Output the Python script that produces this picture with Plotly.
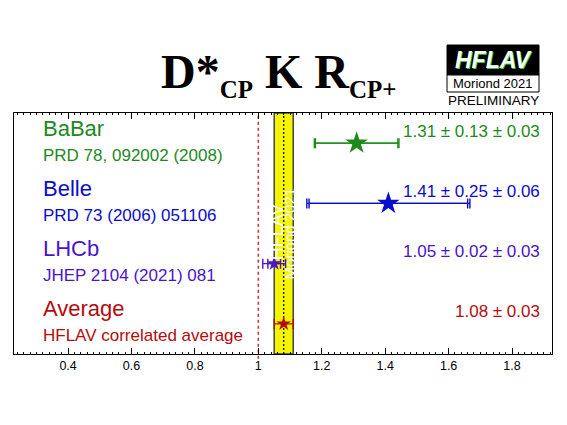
import math
import plotly.graph_objects as go

# ---------------- data ----------------
experiments = ["BaBar", "Belle", "LHCb"]
references = ["PRD 78, 092002 (2008)", "PRD 73 (2006) 051106", "JHEP 2104 (2021) 081"]
values = [1.31, 1.41, 1.05]
stat_err = [0.13, 0.25, 0.02]
syst_err = [0.03, 0.06, 0.03]
exp_colors = ["#1c8a1c", "#0b0bcc", "#4a14c8"]
row_pos = [4, 3, 2]

avg_label = "Average"
avg_ref = "HFLAV correlated average"
avg_value = 1.08
avg_err = 0.03
avg_color = "#b30c0c"
avg_row = 1

x_tick_vals = [0.4, 0.6, 0.8, 1.0, 1.2, 1.4, 1.6, 1.8]
x_tick_text = ["0.4", "0.6", "0.8", "1", "1.2", "1.4", "1.6", "1.8"]
x_range = [0.2295, 1.926]
y_range = [0.5, 4.5]
ref_line = 1.0

# page offset (body margin) compensation
OFF = 8
W, H = 567, 425
ML = 14 - OFF
MT = 113 - OFF
MR = W - (552 - OFF)
MB = H - (354 - OFF)
PW = W - ML - MR
PH = H - MT - MB


def px_x(px):
    return (px - OFF - ML) / PW


def px_y(py):
    return (H - MB - (py - OFF)) / PH


SANS = "Liberation Sans, Arial, sans-serif"
SERIF = "Liberation Serif, Times New Roman, serif"

fig = go.Figure()

# yellow average band + lines
fig.add_shape(type="rect", xref="x", yref="paper", x0=avg_value - avg_err, x1=avg_value + avg_err,
              y0=0, y1=1, fillcolor="#f5f500", line=dict(color="#444444", width=1.5), layer="below")
fig.add_shape(type="line", xref="x", yref="paper", x0=avg_value, x1=avg_value, y0=0, y1=1,
              line=dict(color="black", width=1.2, dash="2px,2px"), layer="below")
fig.add_shape(type="line", xref="x", yref="paper", x0=ref_line, x1=ref_line, y0=-0.02, y1=1,
              line=dict(color="#c03838", width=1.6, dash="3px,3px"), layer="below")

# watermark inside band
fig.add_annotation(x=avg_value - 0.021, y=2.52, xref="x", yref="y", text="HFLAV", textangle=-90,
                   xanchor="center", yanchor="middle",
                   showarrow=False, font=dict(family=SANS, size=18, color="white"))
fig.add_annotation(x=avg_value + 0.017, y=2.5, xref="x", yref="y", text="Moriond 2021", textangle=-90,
                   xanchor="center", yanchor="middle",
                   showarrow=False, font=dict(family=SANS, size=15, color="white"))

# measurements
for name, ref, v, s, sy, c, yy in zip(experiments, references, values, stat_err, syst_err,
                                      exp_colors, row_pos):
    tot = math.sqrt(s ** 2 + sy ** 2)
    big = abs(v - avg_value) > 0.1
    msize = 17 if big else 11
    fig.add_trace(go.Scatter(x=[v], y=[yy], mode="markers",
                             marker=dict(size=1, color=c, opacity=0),
                             error_x=dict(type="data", array=[tot], color=c, thickness=1.4, width=5),
                             showlegend=False, hoverinfo="skip"))
    fig.add_trace(go.Scatter(x=[v], y=[yy], mode="markers",
                             marker=dict(symbol="star", size=msize, color=c, line=dict(width=0)),
                             error_x=dict(type="data", array=[s], color=c, thickness=1.4, width=5),
                             showlegend=False))
    fig.add_annotation(x=px_x(41), xref="paper", y=yy, yref="y", yshift=15, xanchor="left",
                       yanchor="middle",
                       text=name, showarrow=False, font=dict(family=SANS, size=22, color=c))
    fig.add_annotation(x=px_x(41), xref="paper", y=yy, yref="y", yshift=-12, xanchor="left",
                       yanchor="middle",
                       text=ref, showarrow=False, font=dict(family=SANS, size=17, color=c))
    fig.add_annotation(x=px_x(542), xref="paper", y=yy, yref="y", yshift=12, xanchor="right",
                       yanchor="middle",
                       text=f"{v:.2f} \u00b1 {s:.2f} \u00b1 {sy:.2f}", showarrow=False,
                       font=dict(family=SANS, size=17, color=c))

# average
fig.add_trace(go.Scatter(x=[avg_value], y=[avg_row], mode="markers",
                         marker=dict(symbol="star", size=11, color=avg_color, line=dict(width=0)),
                         error_x=dict(type="data", array=[avg_err], color=avg_color, thickness=1.4, width=5),
                         showlegend=False))
fig.add_annotation(x=px_x(41), xref="paper", y=avg_row, yref="y", yshift=15, xanchor="left",
                   yanchor="middle",
                   text=avg_label, showarrow=False, font=dict(family=SANS, size=22, color=avg_color))
fig.add_annotation(x=px_x(41), xref="paper", y=avg_row, yref="y", yshift=-12, xanchor="left",
                   yanchor="middle",
                   text=avg_ref, showarrow=False, font=dict(family=SANS, size=17, color=avg_color))
fig.add_annotation(x=px_x(542), xref="paper", y=avg_row, yref="y", yshift=12, xanchor="right",
                   yanchor="middle",
                   text=f"{avg_value:.2f} \u00b1 {avg_err:.2f}", showarrow=False,
                   font=dict(family=SANS, size=17, color=avg_color))

# title
fig.add_annotation(x=px_x(279), y=px_y(74), xref="paper", yref="paper", showarrow=False,
                   xanchor="center", yanchor="middle",
                   text="D*<sub><span style='font-size:25px'>CP</span></sub> K R<sub><span style='font-size:25px'>CP+</span></sub>",
                   font=dict(family=SERIF, size=48, color="black", weight="bold"))

# HFLAV logo
fig.add_shape(type="rect", xref="paper", yref="paper", x0=px_x(447), x1=px_x(539),
              y0=px_y(75), y1=px_y(45), fillcolor="black", line=dict(color="black", width=1))
fig.add_shape(type="rect", xref="paper", yref="paper", x0=px_x(447), x1=px_x(539),
              y0=px_y(92), y1=px_y(75), fillcolor="white", line=dict(color="black", width=1))
fig.add_annotation(x=px_x(494.5), y=px_y(61), xref="paper", yref="paper", showarrow=False,
                   xanchor="center", yanchor="middle",
                   text="<b><i>HFLAV</i></b>", font=dict(family=SANS, size=23, color="#33cc33"))
fig.add_annotation(x=px_x(493), y=px_y(60), xref="paper", yref="paper", showarrow=False,
                   xanchor="center", yanchor="middle",
                   text="<b><i>HFLAV</i></b>", font=dict(family=SANS, size=23, color="white"))
fig.add_annotation(x=px_x(493), y=px_y(83.5), xref="paper", yref="paper", showarrow=False,
                   xanchor="center", yanchor="middle",
                   text="Moriond 2021", font=dict(family=SANS, size=13, color="black"))
fig.add_annotation(x=px_x(493), y=px_y(100), xref="paper", yref="paper", showarrow=False,
                   xanchor="center", yanchor="middle",
                   text="PRELIMINARY", font=dict(family=SANS, size=13.5, color="black"))

fig.update_layout(
    width=W, height=H, margin=dict(l=ML, r=MR, t=MT, b=MB),
    paper_bgcolor="white", plot_bgcolor="white", showlegend=False,
    xaxis=dict(range=x_range, tickvals=x_tick_vals, ticktext=x_tick_text, ticks="inside",
               ticklen=6, tickwidth=1, tickcolor="black", showline=True, linecolor="black",
               linewidth=1, mirror="ticks", showgrid=False, zeroline=False,
               tickfont=dict(family=SANS, size=12.5, color="black"),
               minor=dict(ticks="inside", ticklen=2, dtick=0.02, tick0=0, tickcolor="black",
                          showgrid=False)),
    yaxis=dict(range=y_range, showline=True, linecolor="black", linewidth=1, mirror=True,
               showticklabels=False, ticks="", showgrid=False, zeroline=False),
)

fig.write_html("out.html")
